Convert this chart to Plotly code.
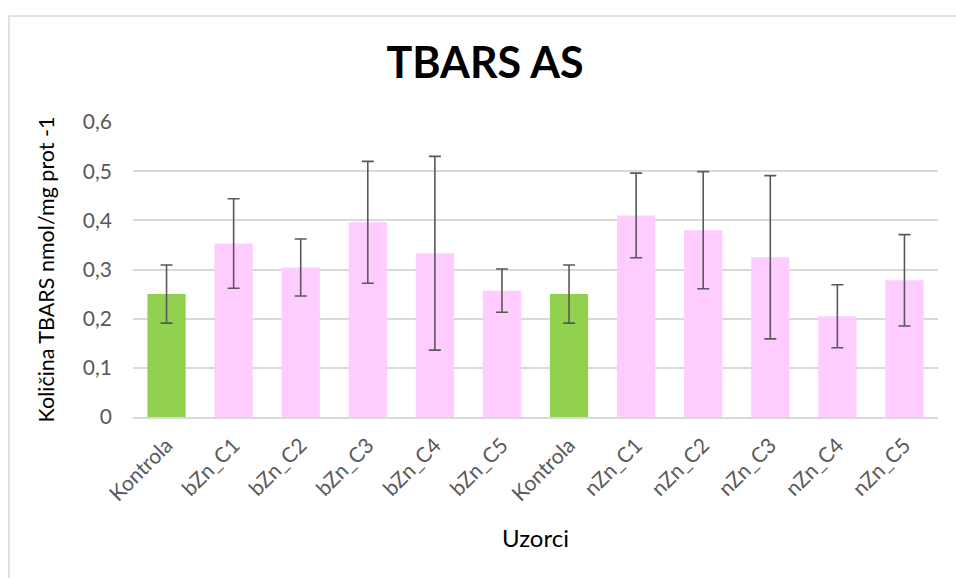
import plotly.graph_objects as go

categories = ["Kontrola", "bZn_C1", "bZn_C2", "bZn_C3", "bZn_C4", "bZn_C5",
              "Kontrola", "nZn_C1", "nZn_C2", "nZn_C3", "nZn_C4", "nZn_C5"]
values = [0.250, 0.353, 0.304, 0.396, 0.333, 0.257,
          0.250, 0.410, 0.380, 0.325, 0.205, 0.278]
errors = [0.059, 0.091, 0.058, 0.124, 0.197, 0.044,
          0.059, 0.086, 0.119, 0.166, 0.064, 0.093]
colors = ["#92D050", "#FFCCFF", "#FFCCFF", "#FFCCFF", "#FFCCFF", "#FFCCFF",
          "#92D050", "#FFCCFF", "#FFCCFF", "#FFCCFF", "#FFCCFF", "#FFCCFF"]
y_tickvals = [0, 0.1, 0.2, 0.3, 0.4, 0.5, 0.6]
y_ticktext = ["0", "0,1", "0,2", "0,3", "0,4", "0,5", "0,6"]

xpos = list(range(len(categories)))
FONT = "Lato, Open Sans, sans-serif"

fig = go.Figure(go.Bar(
    x=xpos, y=values, width=0.57,
    marker=dict(color=colors, line=dict(width=0)),
    error_y=dict(type="data", array=errors, visible=True,
                 color="#595959", thickness=1.6, width=6),
))

W, H = 956, 578
L, R, T, B = 133, 18, 122, 161
pw, ph = W - L - R, H - T - B

def px_to_paper_x(px):
    return (px - L) / pw

def px_to_paper_y(py):
    return (H - B - py) / ph

fig.update_layout(
    width=W, height=H,
    margin=dict(l=L, r=R, t=T, b=B),
    paper_bgcolor="white", plot_bgcolor="white",
    showlegend=False,
    title=dict(text="<b>TBARS AS</b>", x=485 / W, xanchor="center",
               xref="container",
               y=1 - 63 / H, yanchor="middle", automargin=False,
               font=dict(family=FONT, size=43, color="#000000")),
    xaxis=dict(range=[-0.5, 11.5], tickvals=xpos, ticktext=categories,
               tickangle=-45, showgrid=False, zeroline=False,
               showline=True, linecolor="#D9D9D9", linewidth=1.5,
               ticks="", automargin=False, ticklabelstandoff=6,
               tickfont=dict(family=FONT, size=21, color="#595959"),
               title=dict(text="Uzorci", standoff=26,
                          font=dict(family=FONT, size=24, color="#000000"))),
    yaxis=dict(range=[0, 0.6], tickvals=y_tickvals, ticktext=y_ticktext,
               showgrid=True, gridcolor="#D9D9D9", gridwidth=1.5,
               zeroline=False, showline=False, ticks="",
               automargin=False, ticklabelstandoff=20,
               tickfont=dict(family=FONT, size=21, color="#595959"),
               title=dict(text="Količina TBARS nmol/mg prot -1", standoff=22,
                          font=dict(family=FONT, size=21.5, color="#000000"))),
    shapes=[
        dict(type="rect", xref="paper", yref="paper",
             x0=px_to_paper_x(9), x1=px_to_paper_x(1000),
             y0=px_to_paper_y(620), y1=px_to_paper_y(16),
             line=dict(color="#D9D9D9", width=1.5), fillcolor="rgba(0,0,0,0)",
             layer="below"),
    ],
)

fig.write_html("out.html",
               config={"displayModeBar": False},
               post_script="document.body.style.margin='0';document.body.style.overflow='hidden';")
